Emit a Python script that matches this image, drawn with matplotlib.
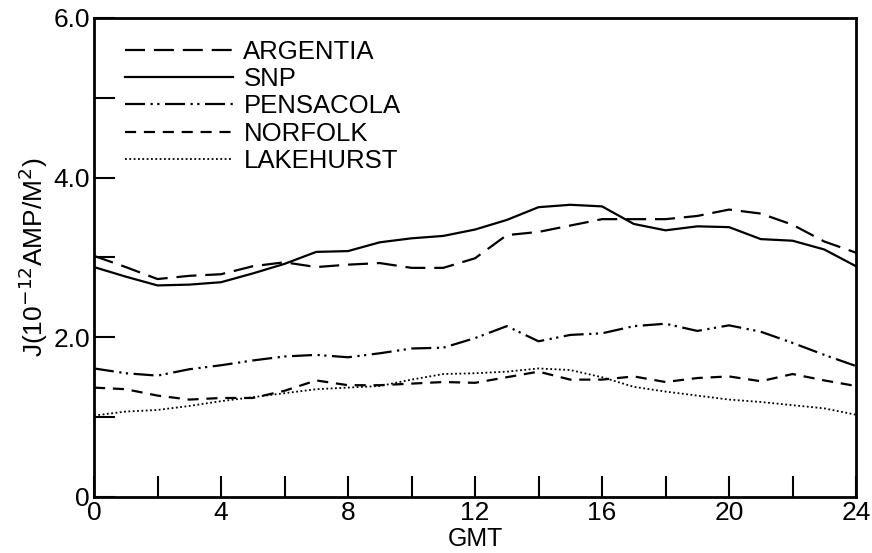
import matplotlib
matplotlib.use("Agg")
import matplotlib.pyplot as plt

# hours GMT
gmt = list(range(25))

argentia = [3.02, 2.88, 2.73, 2.77, 2.79, 2.89, 2.94, 2.88, 2.91, 2.93, 2.87, 2.87, 2.99,
            3.28, 3.32, 3.40, 3.48, 3.48, 3.48, 3.52, 3.60, 3.55, 3.41, 3.20, 3.06]
snp = [2.88, 2.76, 2.65, 2.66, 2.69, 2.80, 2.92, 3.07, 3.08, 3.19, 3.24, 3.27, 3.35,
       3.47, 3.63, 3.66, 3.64, 3.42, 3.34, 3.39, 3.38, 3.23, 3.21, 3.10, 2.89]
pensacola = [1.61, 1.55, 1.52, 1.60, 1.65, 1.71, 1.76, 1.78, 1.75, 1.80, 1.86, 1.87, 1.99,
             2.14, 1.95, 2.03, 2.05, 2.14, 2.17, 2.08, 2.15, 2.07, 1.93, 1.78, 1.64]
norfolk = [1.37, 1.35, 1.27, 1.22, 1.24, 1.24, 1.33, 1.46, 1.40, 1.40, 1.42, 1.44, 1.43,
           1.50, 1.57, 1.47, 1.47, 1.51, 1.44, 1.49, 1.51, 1.45, 1.54, 1.46, 1.39]
lakehurst = [1.02, 1.07, 1.09, 1.14, 1.20, 1.25, 1.30, 1.35, 1.37, 1.39, 1.47, 1.54, 1.55,
             1.57, 1.61, 1.59, 1.50, 1.38, 1.32, 1.27, 1.22, 1.19, 1.15, 1.11, 1.03]

plt.rcParams['font.family'] = ['Liberation Sans', 'DejaVu Sans']

fig = plt.figure(figsize=(8.72, 5.53), dpi=100)
ax = fig.add_axes([0.1078, 0.1013, 0.8739, 0.8662])

lw = 1.6
ax.plot(gmt, argentia, color='black', lw=lw, dashes=(9, 4), label='ARGENTIA')
ax.plot(gmt, snp, color='black', lw=lw, label='SNP')
ax.plot(gmt, pensacola, color='black', lw=lw, dashes=(9, 2.5, 1, 2, 1, 2.5), label='PENSACOLA')
ax.plot(gmt, norfolk, color='black', lw=lw, dashes=(5, 3.5), label='NORFOLK')
ax.plot(gmt, lakehurst, color='black', lw=1.3, dashes=(1, 1.4), label='LAKEHURST')

ax.set_xlim(0, 24)
ax.set_ylim(0, 6.0)
ax.set_xticks(range(0, 25, 2))
ax.set_xticklabels(['0', '', '4', '', '8', '', '12', '', '16', '', '20', '', '24'])
ax.set_yticks([0, 1, 2, 3, 4, 5, 6])
ax.set_yticklabels(['0', '', '2.0', '', '4.0', '', '6.0'])
ax.tick_params(direction='in', length=15, width=1.5, labelsize=19, pad=3)
for s in ax.spines.values():
    s.set_linewidth(2)

ax.set_xlabel('GMT', fontsize=18, labelpad=1)
ax.set_ylabel(r'J(10$^{-12}$AMP/M$^2$)', fontsize=19, labelpad=2)

ax.legend(loc='upper left', frameon=False, fontsize=18.5, handlelength=4.2,
          handletextpad=0.4, labelspacing=0.13, borderaxespad=0, borderpad=0,
          bbox_to_anchor=(0.041, 0.955))

fig.savefig('out.png', dpi=100)
